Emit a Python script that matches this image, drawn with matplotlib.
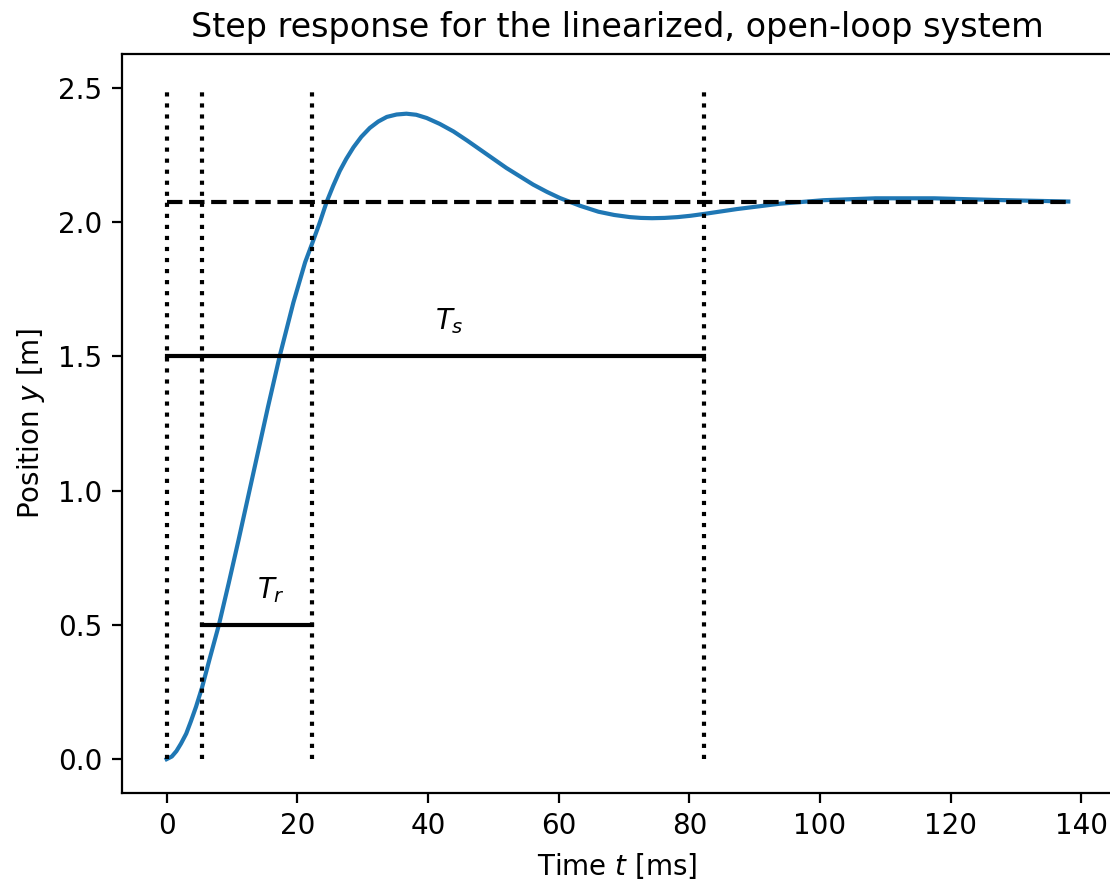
import matplotlib
matplotlib.use("Agg")
import matplotlib.pyplot as plt

# Step response samples (time in ms, position in m)
t_ms = [0, 0.8, 1.5, 2.2, 3.0, 3.7, 4.5, 5.4, 6.6, 8.0, 9.5, 11.0, 12.5,
        14.0, 15.5, 17.3, 19.4, 21.2, 22.2, 23.4, 24.5, 25.5, 26.5, 27.5,
        28.6, 29.8, 31.1, 32.4, 33.7, 35.2, 36.7, 38.2, 39.8, 41.8, 43.9,
        46.0, 48.0, 52.0, 56.1, 58.2, 60.2, 63.3, 66.1, 68.5, 70.9, 72.6,
        74.3, 76.2, 78.2, 80.2, 82.3, 87.3, 93.9, 100.6, 108.5, 117.5,
        126.6, 138.0]
y_m = [0.0, 0.01, 0.03, 0.058, 0.095, 0.14, 0.195, 0.265, 0.375, 0.50,
       0.655, 0.815, 0.98, 1.145, 1.31, 1.50, 1.70, 1.85, 1.915, 1.995,
       2.075, 2.135, 2.19, 2.235, 2.278, 2.317, 2.35, 2.374, 2.391, 2.400,
       2.403, 2.399, 2.387, 2.365, 2.337, 2.303, 2.269, 2.201, 2.139,
       2.112, 2.089, 2.06, 2.038, 2.026, 2.018, 2.015, 2.014, 2.015, 2.018,
       2.023, 2.03, 2.048, 2.068, 2.081, 2.088, 2.088, 2.082, 2.076]

y_final = 2.075
t_start = 0.0
t_10 = 5.4
t_90 = 22.2
t_settle = 82.3
t_end = 138.0
vline_top = 2.5
ts_level = 1.5
tr_level = 0.5

fig = plt.figure(figsize=(5.55, 4.41), dpi=200)
ax = fig.add_axes([0.1095, 0.1012, 0.90, 0.8375])

ax.plot(t_ms, y_m, color="C0")
ax.plot([t_start, t_end], [y_final, y_final], "k--")
for tv in [t_start, t_10, t_90, t_settle]:
    ax.plot([tv, tv], [0, vline_top], "k:")
ax.plot([t_start, t_settle], [ts_level, ts_level], "k-")
ax.text((t_start + t_settle) / 2, ts_level + 0.1, "$T_s$")
ax.plot([t_10, t_90], [tr_level, tr_level], "k-")
ax.text((t_10 + t_90) / 2, tr_level + 0.1, "$T_r$")

ax.set_xlim(-6.9, 146.0)
ax.spines["right"].set_visible(False)
ax.set_title("Step response for the linearized, open-loop system", x=0.4965)
ax.set_xlabel("Time $t$ [ms]", x=0.4965)
ax.set_ylabel("Position $y$ [m]")

fig.savefig("out.png", dpi=200)
